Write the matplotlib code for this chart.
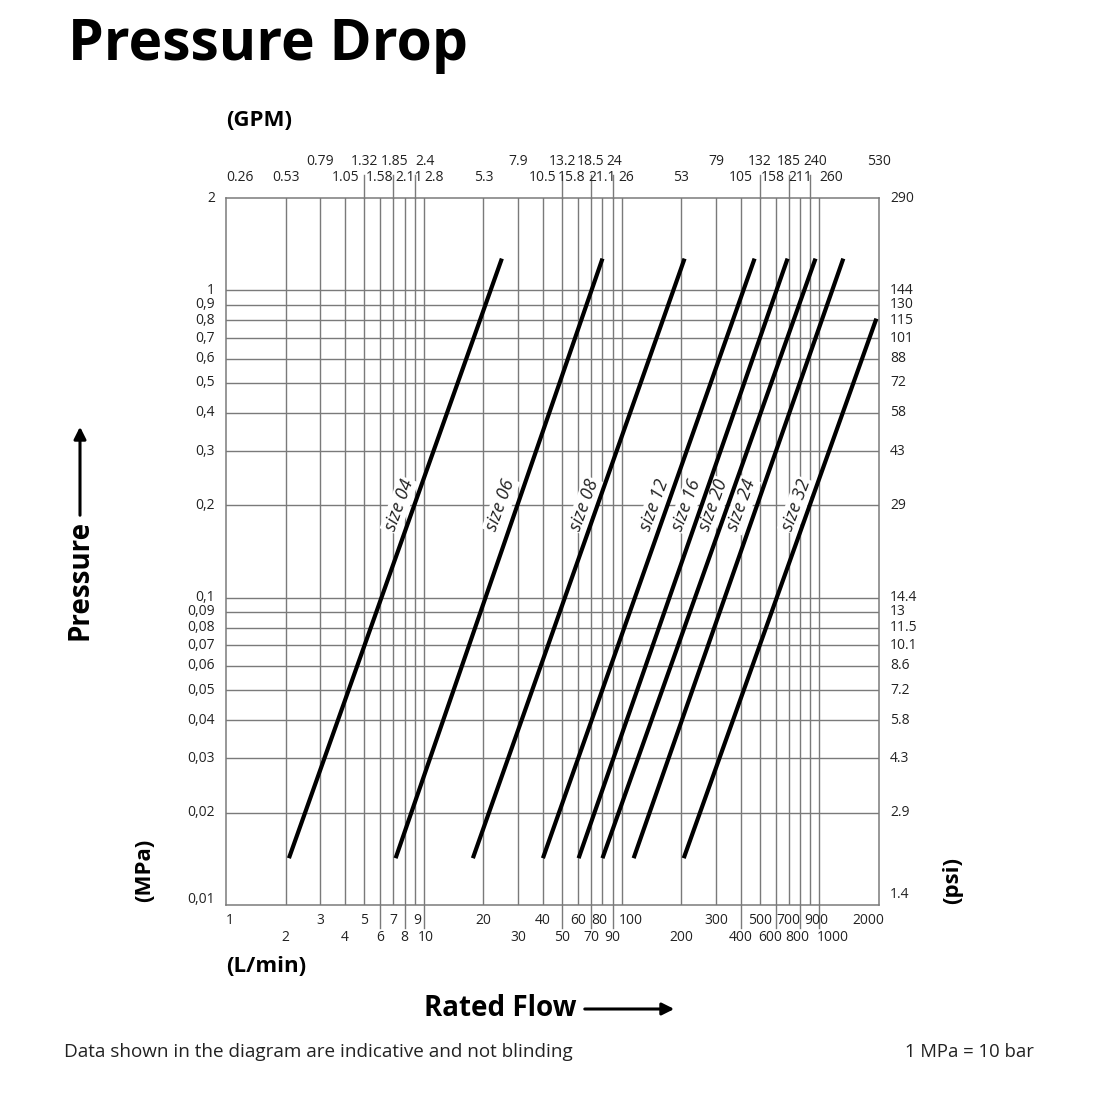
import numpy as np
import matplotlib.pyplot as plt
import matplotlib.transforms as mtransforms

plt.rcParams['font.family'] = ['Open Sans', 'DejaVu Sans']

# flow in L/min, pressure in MPa: start/end point of each size line
sizes = ["size 04", "size 06", "size 08", "size 12", "size 16", "size 20", "size 24", "size 32"]
flow_lo = [2.08, 7.2, 17.7, 40, 60.6, 80, 115, 206]
flow_hi = [24.8, 80, 208, 470, 690, 955, 1320, 1940]
p_lo = [0.0142, 0.0142, 0.0142, 0.0142, 0.0142, 0.0142, 0.0142, 0.0142]
p_hi = [1.27, 1.27, 1.27, 1.27, 1.27, 1.27, 1.27, 0.81]
label_x = [7.5, 24.5, 65, 147, 213, 292, 404, 765]

# x axis ticks (L/min) and GPM equivalents
lpm = [1, 2, 3, 4, 5, 6, 7, 8, 9, 10, 20, 30, 40, 50, 60, 70, 80, 90, 100,
       200, 300, 400, 500, 600, 700, 800, 900, 1000, 2000]
gpm = ["0.26", "0.53", "0.79", "1.05", "1.32", "1.58", "1.85", "2.11", "2.4", "2.8",
       "5.3", "7.9", "10.5", "13.2", "15.8", "18.5", "21.1", "24", "26",
       "53", "79", "105", "132", "158", "185", "211", "240", "260", "530"]
gpm_upper = ["0.79", "1.32", "1.85", "2.4", "7.9", "13.2", "18.5", "24",
             "79", "132", "185", "240", "530"]
lpm_upper = [1, 3, 5, 7, 9, 20, 40, 60, 80, 100, 300, 500, 700, 900, 2000]
ext_bottom = [6, 8, 10, 50, 70, 90, 400, 600, 800, 1000]
ext_top = [5, 7, 9, 50, 70, 90, 500, 700, 900]

# small pixel nudges for crowded labels
nudge_top = {"1.85": 1, "2.11": 4, "2.4": 10, "2.8": 10, "15.8": -6, "21.1": 0,
             "24": 2, "26": 5, "158": -3, "240": 5, "260": 12}
nudge_bot = {9: 2, 10: 2, 80: -3, 100: 9, 600: -5, 800: -3, 900: 6, 1000: 13, 2000: -11}

# y axis ticks (MPa) and psi equivalents
mpa = [0.01, 0.02, 0.03, 0.04, 0.05, 0.06, 0.07, 0.08, 0.09,
       0.1, 0.2, 0.3, 0.4, 0.5, 0.6, 0.7, 0.8, 0.9, 1, 2]
mpa_lbl = ["0,01", "0,02", "0,03", "0,04", "0,05", "0,06", "0,07", "0,08", "0,09",
           "0,1", "0,2", "0,3", "0,4", "0,5", "0,6", "0,7", "0,8", "0,9", "1", "2"]
psi = ["1.4", "2.9", "4.3", "5.8", "7.2", "8.6", "10.1", "11.5", "13",
       "14.4", "29", "43", "58", "72", "88", "101", "115", "130", "144", "290"]

grid_c = "#7a7a7a"
txt_c = "#222222"
fig = plt.figure(figsize=(11, 11), dpi=100)
ax = fig.add_axes([226/1100, 1 - 905/1100, 653/1100, 707/1100])
ax.set_xscale("log")
ax.set_yscale("log")
ax.set_xlim(1, 2000)
ax.set_ylim(0.01, 2)
ax.set_xticks([])
ax.set_yticks([])
ax.minorticks_off()
for s in ax.spines.values():
    s.set_color(grid_c)
    s.set_linewidth(1.1)

for v in lpm[1:-1]:
    ax.axvline(v, color=grid_c, lw=1.0, zorder=1)
for v in mpa[1:-1]:
    ax.axhline(v, color=grid_c, lw=1.0, zorder=1)

tx = mtransforms.blended_transform_factory(ax.transData, ax.transAxes)
ty = mtransforms.blended_transform_factory(ax.transAxes, ax.transData)
for v in ext_bottom:
    ax.plot([v, v], [0, -0.032], color=grid_c, lw=1.0, transform=tx, clip_on=False)
for v in ext_top:
    ax.plot([v, v], [1, 1.033], color=grid_c, lw=1.0, transform=tx, clip_on=False)

fs = 10
for v in lpm:
    up = v in lpm_upper
    ha = "left" if v == 1 else "center"
    tr = mtransforms.offset_copy(tx, fig=fig, x=nudge_bot.get(v, 0), y=0, units="dots")
    ax.text(v, -0.022 if up else -0.046, str(v), transform=tr, ha=ha, va="center",
            fontsize=fs, color=txt_c)
for v, g in zip(lpm, gpm):
    up = g in gpm_upper
    ha = "left" if v == 1 else "center"
    tr = mtransforms.offset_copy(tx, fig=fig, x=nudge_top.get(g, 0), y=0, units="dots")
    ax.text(v, 1.052 if up else 1.029, g, transform=tr, ha=ha, va="center",
            fontsize=fs, color=txt_c)
for v, m, p in zip(mpa, mpa_lbl, psi):
    ax.text(-0.017, v * (1.04 if v == 0.01 else 1.0), m, transform=ty, ha="right",
            va="center", fontsize=fs, color=txt_c)
    ax.text(1.017, v * (1.08 if v == 0.01 else 1.0), p, transform=ty, ha="left",
            va="center", fontsize=fs, color=txt_c)

for i in range(len(sizes)):
    ax.plot([flow_lo[i], flow_hi[i]], [p_lo[i], p_hi[i]], color="black", lw=3,
            solid_capstyle="butt", zorder=3, clip_on=False)
    ax.text(label_x[i], 0.2, sizes[i], rotation=70, ha="center", va="center",
            fontsize=13, color=txt_c, style="italic", zorder=2,
            bbox=dict(facecolor="white", edgecolor="none", pad=1.0))

fig.text(68/1100, 1 - 45/1100, "Pressure Drop", fontsize=41, fontweight="bold",
         ha="left", va="center")
fig.text(226/1100, 1 - 120/1100, "(GPM)", fontsize=16, fontweight="bold", ha="left", va="center")
fig.text(226/1100, 1 - 967/1100, "(L/min)", fontsize=16, fontweight="bold", ha="left", va="center")
fig.text(145/1100, 1 - 870/1100, "(MPa)", fontsize=16, fontweight="bold", rotation=90,
         ha="center", va="center")
fig.text(953/1100, 1 - 880/1100, "(psi)", fontsize=16, fontweight="bold", rotation=90,
         ha="center", va="center")

fig.text(80/1100, 1 - 580/1100, "Pressure", fontsize=20, fontweight="bold", rotation=90,
         ha="center", va="center")
ax.annotate("", xy=(80/1100, 1 - 424/1100), xytext=(80/1100, 1 - 518/1100),
            xycoords="figure fraction", textcoords="figure fraction",
            arrowprops=dict(arrowstyle="-|>", color="black", lw=2.2, mutation_scale=18))

fig.text(500/1100, 1 - 1008/1100, "Rated Flow", fontsize=20, fontweight="bold",
         ha="center", va="center")
ax.annotate("", xy=(677/1100, 1 - 1009/1100), xytext=(582/1100, 1 - 1009/1100),
            xycoords="figure fraction", textcoords="figure fraction",
            arrowprops=dict(arrowstyle="-|>", color="black", lw=2.2, mutation_scale=18))

fig.text(64/1100, 1 - 1052/1100, "Data shown in the diagram are indicative and not blinding",
         fontsize=13.6, ha="left", va="center", color=txt_c)
fig.text(1034/1100, 1 - 1052/1100, "1 MPa = 10 bar", fontsize=13.3, ha="right", va="center",
         color=txt_c)

fig.savefig("out.png", dpi=100, facecolor="white")
